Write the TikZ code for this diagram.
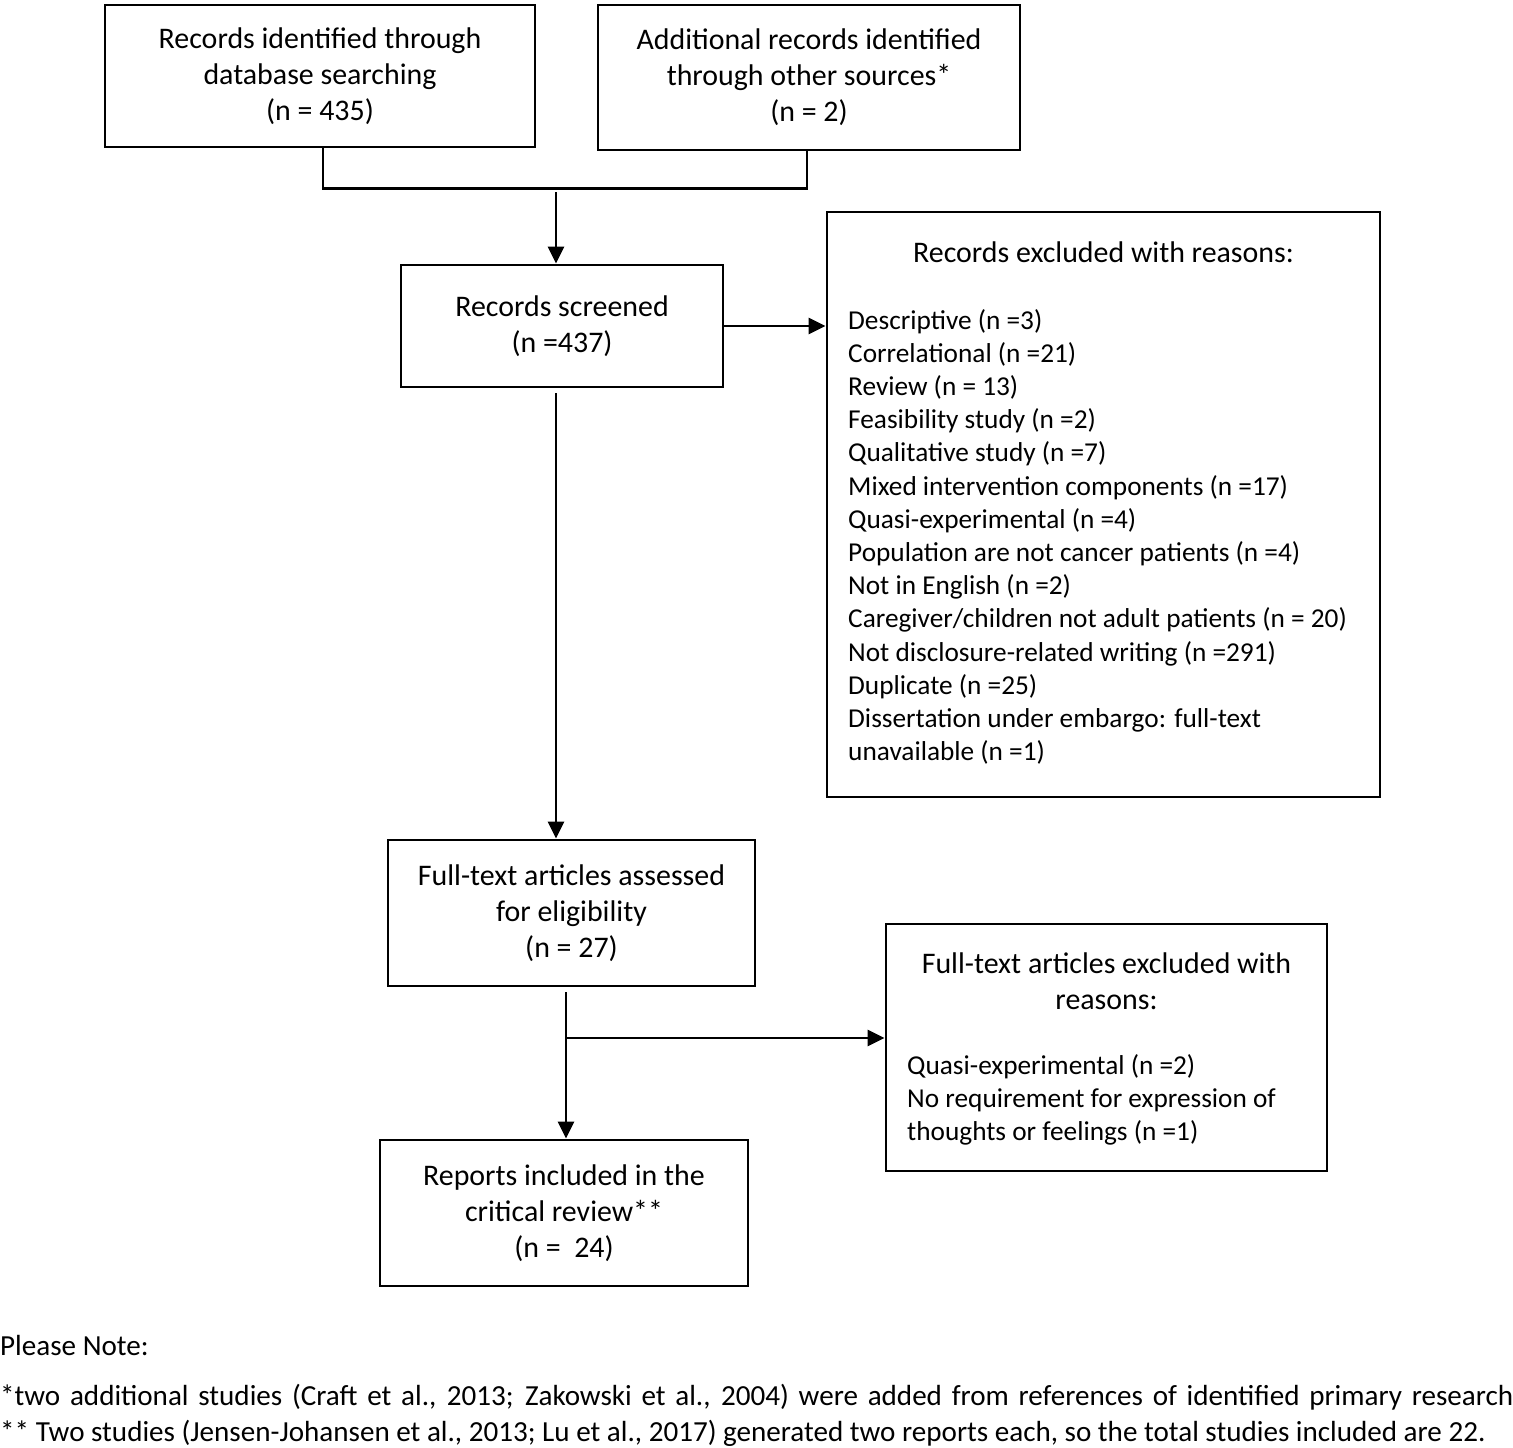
\documentclass[tikz,border=0pt]{standalone}
\usepackage{fontspec}
\setmainfont{Carlito}
\usetikzlibrary{arrows.meta}
\begin{document}
\begin{tikzpicture}[x=1pt,y=-1pt,
  box/.style={draw, line width=2.8pt, align=center, inner sep=0pt,
    font=\fontsize{29.9}{36}\selectfont},
  txt/.style={inner sep=0pt, font=\fontsize{29.9}{36}\selectfont},
  note/.style={inner sep=0pt, font=\fontsize{29.1}{36}\selectfont},
  lst/.style={inner sep=0pt, align=left, font=\fontsize{27.3}{33.2}\selectfont},
  conn/.style={line width=2.8pt},
  arr/.style={line width=2.8pt, -{Triangle[length=17pt,width=16pt]}}]
\useasboundingbox (0,0) rectangle (1513,1448);
% boxes
\node[box, minimum width=430pt, minimum height=142pt] (b1) at (320,76)
  {Records identified through\\database searching\\(n = 435)};
\node[box, minimum width=422pt, minimum height=145pt] (b2) at (809,77.5)
  {Additional records identified\\through other sources*\\(n = 2)};
\node[box, minimum width=322pt, minimum height=122pt] (b3) at (562,326)
  {Records screened\\(n =437)};
\node[box, minimum width=553pt, minimum height=585pt] (b4) at (1103.5,504.5) {};
\node[txt] (b4t) at (1103.5,252) {Records excluded with reasons:};
\node[lst, anchor=north west] (b4l) at (848,309)
  {Descriptive (n =3)\\
   Correlational (n =21)\\
   Review (n = 13)\\
   Feasibility study (n =2)\\
   Qualitative study (n =7)\\
   Mixed intervention components (n =17)\\
   Quasi-experimental (n =4)\\
   Population are not cancer patients (n =4)\\
   Not in English (n =2)\\
   Caregiver/children not adult patients (n = 20)\\
   Not disclosure-related writing (n =291)\\
   Duplicate (n =25)\\
   Dissertation under embargo: full-text\\
   unavailable (n =1)};
\node[box, minimum width=367pt, minimum height=146pt] (b5) at (571.5,913)
  {Full-text articles assessed\\for eligibility\\(n = 27)};
\node[box, minimum width=441pt, minimum height=247pt] (b6) at (1106.5,1047.5) {};
\node[txt, align=center] (b6t) at (1106.5,981)
  {Full-text articles excluded with\\reasons:};
\node[lst, anchor=north west] (b6l) at (907,1054)
  {Quasi-experimental (n =2)\\
   No requirement for expression of\\
   thoughts or feelings (n =1)};
\node[box, minimum width=368pt, minimum height=146pt] (b7) at (564,1213)
  {Reports included in the\\critical review**\\(n =\ \ 24)};
% connectors
\draw[conn] (b1.south) ++(3,0) coordinate (s1) -- ++(0,40) -| ([xshift=-2pt]b2.south);
\coordinate (m1) at (556,192);
\draw[arr] (m1) -- (m1 |- b3.north);
\draw[arr] (b3.east) -- (b3.east -| b4.west);
\coordinate (m2) at (556,393);
\draw[arr] (m2) -- (m2 |- b5.north);
\coordinate (m3) at (566,992);
\draw[arr] (m3) -- (m3 |- b7.north);
\coordinate (m4) at (566,1038);
\draw[arr] (m4) -- (m4 -| b6.west);
% notes
\node[note, anchor=west] (n0) at (0,1345) {Please Note:};
\node[note, anchor=west] (n1) at (0,1397)
  {\makebox[1513pt][s]{*two additional studies (Craft et al., 2013; Zakowski et al., 2004) were added from references of identified primary research}};
\node[note, anchor=west] (n2) at (0,1433)
  {** Two studies (Jensen-Johansen et al., 2013; Lu et al., 2017) generated two reports each, so the total studies included are 22.};
\end{tikzpicture}
\end{document}
